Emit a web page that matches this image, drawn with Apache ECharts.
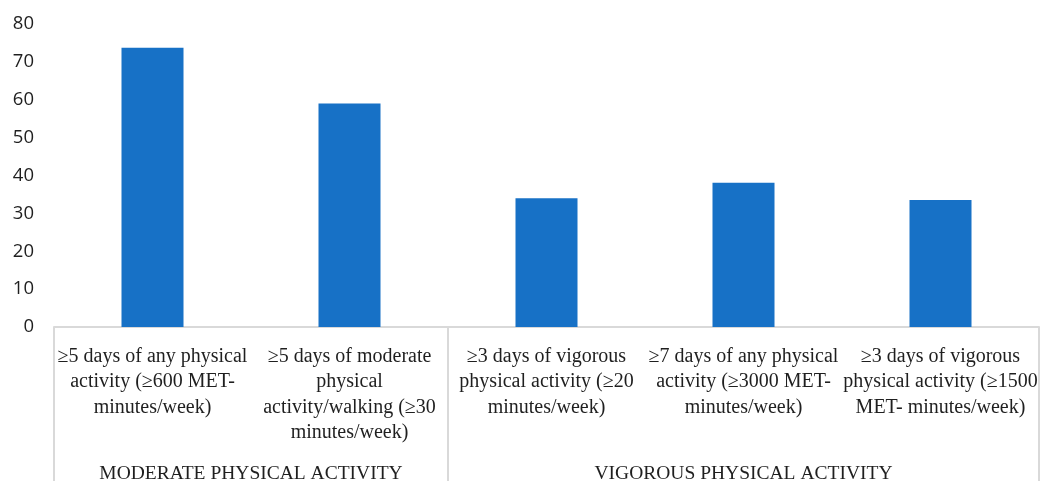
<!DOCTYPE html>
<html>
<head>
<meta charset="utf-8">
<script src="https://cdn.jsdelivr.net/npm/echarts@6/dist/echarts.min.js"></script>
<style>
  html, body { margin: 0; padding: 0; background: #fff; }
  #chart { width: 1040px; height: 481px; }
</style>
</head>
<body>
<div id="chart"></div>
<script>
// Category labels (line breaks as typeset under each bar)
const categories = [
  '≥5 days of any physical\nactivity (≥600 MET-\nminutes/week)',
  '≥5 days of moderate\nphysical\nactivity/walking (≥30\nminutes/week)',
  '≥3 days of vigorous\nphysical activity (≥20\nminutes/week)',
  '≥7 days of any physical\nactivity (≥3000 MET-\nminutes/week)',
  '≥3 days of vigorous\nphysical activity (≥1500\nMET- minutes/week)'
];
// Percentage meeting each criterion
const values = [73.7, 59.0, 34.0, 38.1, 33.5];
// Outer grouping of the categories
const groupNames = ['MODERATE PHYSICAL ACTIVITY', 'VIGOROUS PHYSICAL ACTIVITY'];
const groupSizes = [2, 3];
// Value axis ticks
const yMin = 0, yMax = 80, yStep = 10;

// Group boundaries and centres in category units (0 .. categories.length)
const boundaries = [0];
groupSizes.forEach(n => boundaries.push(boundaries[boundaries.length - 1] + n));
const centres = groupSizes.map((n, i) => boundaries[i] + n / 2);

const axisGray = '#d9d9d9';
const textColor = '#1f1f1f';
const serif = '"Liberation Serif", "DejaVu Serif", serif';

const chart = echarts.init(document.getElementById('chart'));
chart.setOption({
  animation: false,
  grid: { left: 54, right: 1, top: 24, bottom: 154, containLabel: false, outerBoundsMode: 'none' },
  xAxis: [
    {
      type: 'category',
      data: categories,
      position: 'bottom',
      axisLine: { lineStyle: { color: axisGray, width: 2 } },
      axisTick: { show: false },
      axisLabel: {
        interval: 0,
        margin: 17,
        color: textColor,
        fontFamily: serif,
        fontSize: 20,
        lineHeight: 25.3,
        align: 'center'
      }
    },
    {
      type: 'value',
      position: 'bottom',
      min: 0,
      max: categories.length,
      axisLine: { show: false },
      splitLine: { show: false },
      axisTick: {
        show: true,
        customValues: boundaries,
        length: 156,
        lineStyle: { color: axisGray, width: 2 }
      },
      axisLabel: {
        customValues: centres,
        margin: 134,
        color: textColor,
        fontFamily: serif,
        fontSize: 19.5,
        lineHeight: 25,
        formatter: v => {
          const i = centres.indexOf(v);
          return i >= 0 ? groupNames[i] : '';
        }
      }
    }
  ],
  yAxis: {
    type: 'value',
    min: yMin,
    max: yMax,
    interval: yStep,
    axisLine: { show: false },
    axisTick: { show: false },
    splitLine: { show: false },
    axisLabel: {
      margin: 20,
      color: textColor,
      fontFamily: '"Open Sans", "Noto Sans", sans-serif',
      fontSize: 18.5
    }
  },
  series: [{
    type: 'bar',
    xAxisIndex: 0,
    data: values,
    barWidth: 62,
    itemStyle: { color: '#1771c6' }
  }]
});
</script>
</body>
</html>
